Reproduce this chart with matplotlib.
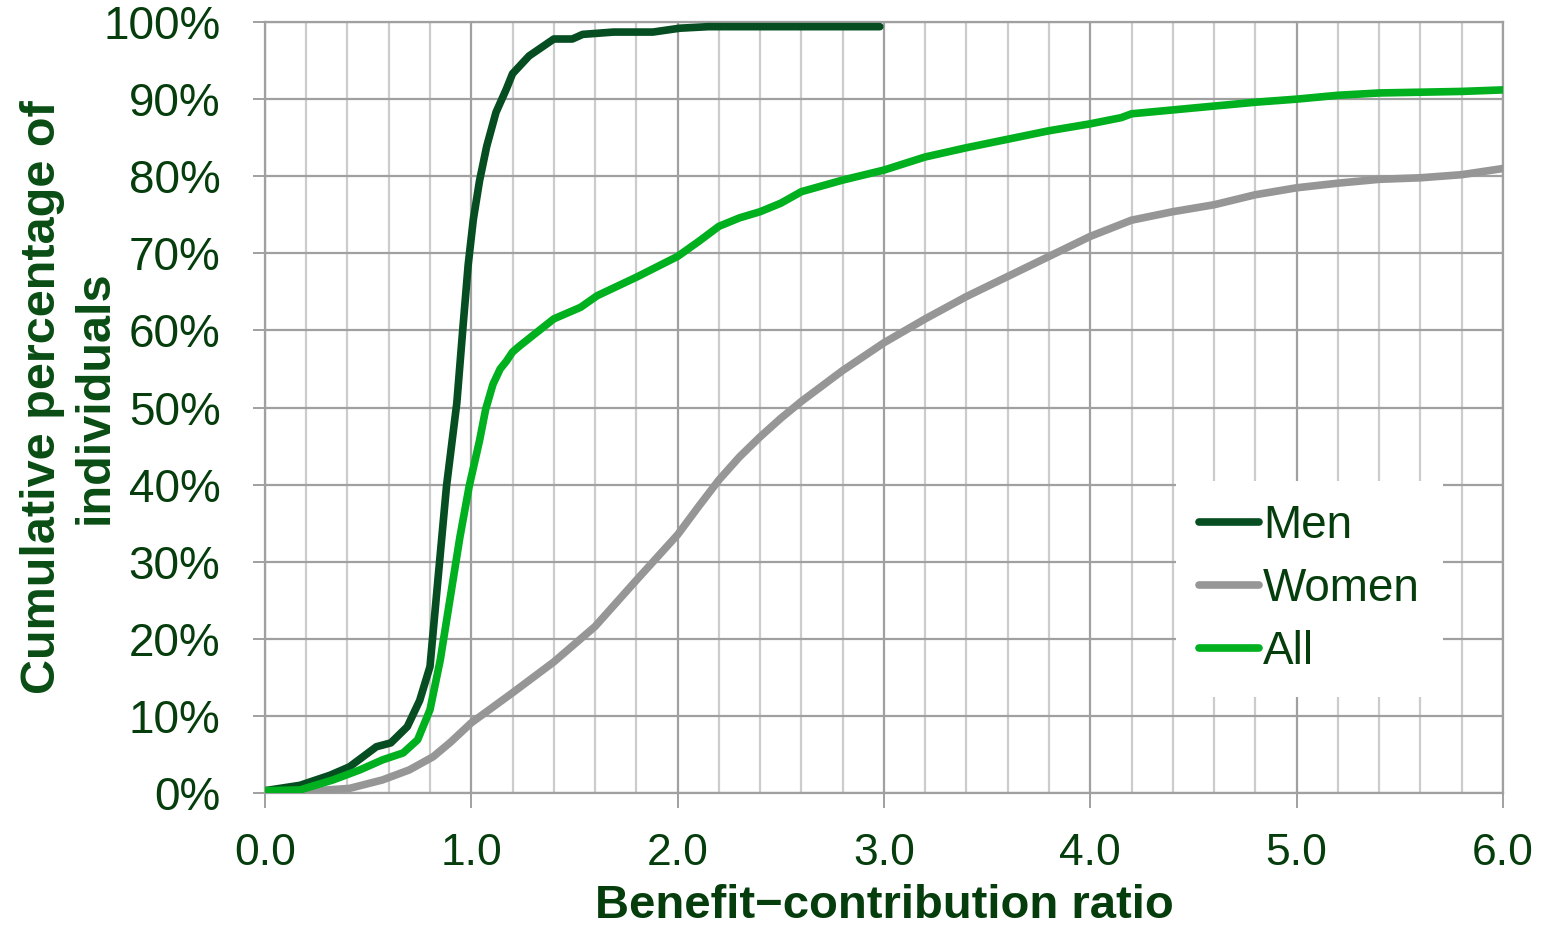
import matplotlib
matplotlib.use("Agg")
import matplotlib.pyplot as plt
from matplotlib.ticker import MultipleLocator, FuncFormatter

# ---------------------------------------------------------
# DATA
# ---------------------------------------------------------
men_x = [0.0, 0.17, 0.315, 0.41, 0.54, 0.61, 0.69, 0.75, 0.80, 0.82, 0.88, 0.93,
         0.96, 0.985, 1.01, 1.04, 1.075, 1.12, 1.17, 1.20, 1.28, 1.40, 1.49, 1.54,
         1.69, 1.88, 2.01, 2.15, 2.98]
men_y = [0.3, 1.0, 2.3, 3.4, 6.0, 6.5, 8.6, 12.0, 16.4, 22.3, 39.8, 50.6,
         60.5, 68.5, 74.4, 79.4, 83.9, 88.3, 91.3, 93.3, 95.6, 97.8, 97.8, 98.4,
         98.7, 98.7, 99.2, 99.4, 99.4]

women_x = [0.0, 0.25, 0.41, 0.57, 0.70, 0.815, 0.90, 1.0, 1.2, 1.4, 1.6, 1.8,
           2.0, 2.1, 2.2, 2.3, 2.4, 2.5, 2.6, 2.8, 3.0, 3.2, 3.4, 3.6, 3.8, 4.0,
           4.2, 4.4, 4.6, 4.8, 5.0, 5.2, 5.4, 5.6, 5.8, 6.0]
women_y = [0.0, 0.3, 0.6, 1.7, 3.0, 4.7, 6.6, 9.1, 13.0, 17.0, 21.6, 27.6,
           33.5, 37.1, 40.6, 43.6, 46.2, 48.6, 50.8, 54.8, 58.4, 61.5, 64.4, 67.0, 69.6, 72.2,
           74.3, 75.4, 76.3, 77.6, 78.5, 79.1, 79.6, 79.8, 80.2, 81.0]

all_x = [0.0, 0.17, 0.33, 0.46, 0.57, 0.67, 0.74, 0.80, 0.85, 0.89, 0.945, 0.99,
         1.04, 1.07, 1.105, 1.14, 1.17, 1.20, 1.235, 1.40, 1.53, 1.61, 1.80, 2.0,
         2.1, 2.2, 2.3, 2.4, 2.5, 2.6, 2.8, 3.0, 3.2, 3.4, 3.6, 3.8, 4.0, 4.15,
         4.2, 4.4, 4.6, 4.8, 5.0, 5.2, 5.4, 5.6, 5.8, 6.0]
all_y = [0.3, 0.4, 1.7, 3.0, 4.3, 5.2, 6.9, 10.8, 17.3, 24.0, 33.2, 39.8,
         45.7, 49.8, 53.0, 55.0, 56.0, 57.2, 58.0, 61.5, 63.0, 64.5, 66.9, 69.6,
         71.5, 73.5, 74.6, 75.4, 76.5, 78.0, 79.5, 80.8, 82.5, 83.7, 84.8, 85.9, 86.8, 87.6,
         88.1, 88.6, 89.1, 89.6, 90.0, 90.5, 90.8, 90.9, 91.0, 91.2]

series = [
    ("Men", men_x, men_y, "#064d22"),
    ("Women", women_x, women_y, "#969696"),
    ("All", all_x, all_y, "#00b01e"),
]

TEXT_COLOR = "#063d0c"
plt.rcParams['font.family'] = ['Liberation Sans', 'DejaVu Sans']

fig = plt.figure(figsize=(15.52, 9.30), dpi=100)
ax = fig.add_axes([0.1707, 0.1473, 0.7977, 0.829])

# draw order: women under the others
for name, xs, ys, col in [series[1], series[0], series[2]]:
    ax.plot(xs, ys, color=col, lw=5.5, solid_capstyle='round',
            solid_joinstyle='round', label=name, zorder=3)

ax.set_xlim(0, 6)
ax.set_ylim(0, 100)
ax.xaxis.set_major_locator(MultipleLocator(1.0))
ax.xaxis.set_minor_locator(MultipleLocator(0.2))
ax.yaxis.set_major_locator(MultipleLocator(10))
ax.xaxis.set_major_formatter(FuncFormatter(lambda v, p: f"{v:.1f}"))
ax.yaxis.set_major_formatter(FuncFormatter(lambda v, p: f"{v:.0f}%"))

ax.grid(True, which='major', color='#a0a0a0', lw=1.6, zorder=1)
ax.grid(True, which='minor', axis='x', color='#cccccc', lw=1.6, zorder=1)
ax.set_axisbelow(True)
for s in ax.spines.values():
    s.set_color('#a0a0a0')
    s.set_linewidth(1.6)

# x tick labels sit a little higher than the reference so the axis title fits below
ax.tick_params(axis='x', which='major', length=11, width=1.4, color='#a0a0a0',
               pad=18, labelsize=32, labelcolor=TEXT_COLOR)
ax.tick_params(axis='x', which='minor', length=0)
ax.tick_params(axis='y', which='major', length=9, width=1.4, color='#a0a0a0',
               pad=23, labelsize=33, labelcolor=TEXT_COLOR)

ax.set_xlabel("Benefit\u2212contribution ratio", fontsize=34, fontweight='bold',
              color=TEXT_COLOR)
ax.xaxis.set_label_coords(0.5, -0.1175)
ax.set_ylabel("Cumulative percentage of\nindividuals", fontsize=35,
              fontweight='bold', color="#0a4d14", linespacing=1.22)
ax.yaxis.set_label_coords(-0.119, 0.514)

handles, labels = ax.get_legend_handles_labels()
order = [labels.index(n) for n in ["Men", "Women", "All"]]
leg = ax.legend([handles[i] for i in order], [labels[i] for i in order],
                loc='upper left', bbox_to_anchor=(0.736, 0.405),
                borderaxespad=0, fontsize=33, handlelength=1.3,
                handletextpad=0.1, labelspacing=0.42, borderpad=0.5,
                frameon=True, fancybox=False, framealpha=1,
                facecolor='white', edgecolor='none')
for t in leg.get_texts():
    t.set_color(TEXT_COLOR)

fig.savefig("out.png", dpi=100)
